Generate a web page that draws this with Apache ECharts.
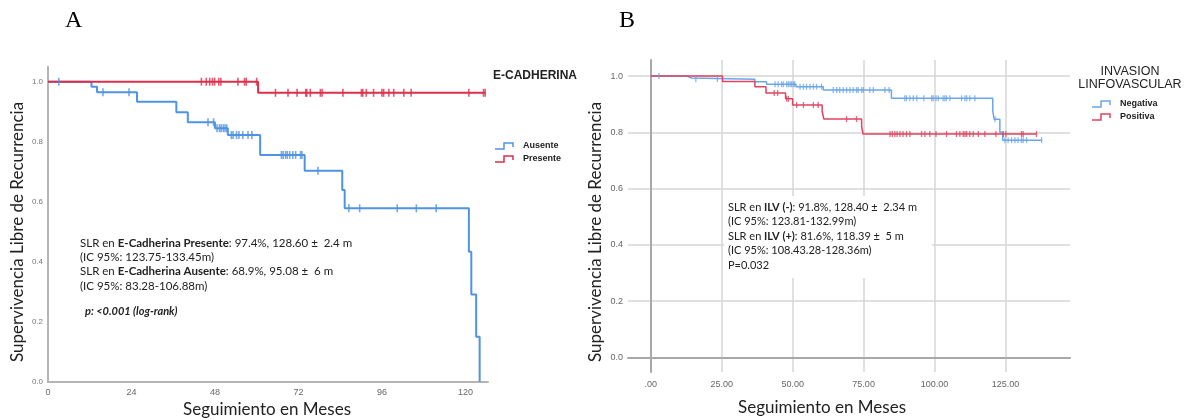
<!DOCTYPE html>
<html><head><meta charset="utf-8">
<script src="https://cdn.jsdelivr.net/npm/echarts@6/dist/echarts.min.js"></script>
<style>html,body{margin:0;padding:0;background:#fff}#c{width:1187px;height:420px}</style>
</head><body><div id="c"></div>
<script>
// ---- Panel A: E-Cadherina ----
const aAusTimes = [0, 12.5, 14.1, 25.6, 36.9, 40.2, 48.0, 51.7, 61.0, 73.8, 84.6, 85.3, 121.0, 121.7, 123.1, 124.1];
const aAusSurv  = [1, 0.983, 0.965, 0.933, 0.898, 0.865, 0.845, 0.822, 0.756, 0.703, 0.639, 0.578, 0.433, 0.291, 0.15, 0];
const aAusEnd = 124.1;
const aAusCens = [3.1, 15.8, 23.3, 46.0, 47.6, 48.6, 49.3, 49.8, 50.4, 50.9, 51.4, 52.7, 53.2, 54.2, 54.9, 56.0, 57.5, 58.6,
  67.1, 67.6, 68.3, 68.8, 69.5, 70.4, 71.2, 72.6, 73.0, 77.6, 86.5, 89.6, 100.4, 105.9, 111.6];
const aPreTimes = [0, 60.4];
const aPreSurv  = [1, 0.963];
const aPreEnd = 125.7;
const aPreCens = [44.1, 45.5, 46.5, 47.3, 47.9, 49.1, 49.7, 54.6, 56.5, 57.0, 60.0, 65.4, 69.0, 71.6, 74.1, 74.4, 75.4, 78.3, 78.8,
  84.8, 90.1, 90.5, 91.5, 93.6, 96.0, 96.5, 98.0, 99.4, 102.3, 104.4, 121.0, 125.2, 125.7];
const aXTicks = [0, 24, 48, 72, 96, 120];
const aYTicks = [0, 0.2, 0.4, 0.6, 0.8, 1.0];

// ---- Panel B: Invasion linfovascular ----
const bNegTimes = [0, 12.7, 14.4, 36.7, 40.8, 51.2, 60.8, 84.8, 120.5, 121.0, 123.0, 124.0];
const bNegSurv  = [1, 0.993, 0.989, 0.980, 0.971, 0.962, 0.950, 0.921, 0.875, 0.846, 0.80, 0.772];
const bNegEnd = 137.7;
const bNegCens = [2.9, 15.9, 23.5, 43.8, 44.9, 46.1, 46.7, 47.9, 48.5, 49.1, 49.6, 50.2, 50.7, 52.6, 53.8, 54.9, 56.1, 57.3, 58.4, 60.2,
  64.3, 65.5, 66.6, 67.8, 69.0, 70.2, 71.3, 72.5, 73.1, 74.3, 74.9, 77.2, 78.4, 82.5, 84.0,
  89.5, 90.1, 91.3, 92.5, 93.7, 96.2, 99.0, 99.5, 100.5, 101.3, 103.0, 103.6, 104.2, 105.4, 109.5, 110.7, 111.3, 112.4, 114.2,
  121.3, 124.8, 125.9, 127.1, 128.3, 129.4, 130.6, 131.2, 132.4, 137.7];
const bPosTimes = [0, 25.3, 36.7, 40.6, 47.5, 50.0, 60.4, 61.0, 74.3, 74.8];
const bPosSurv  = [1, 0.981, 0.962, 0.940, 0.919, 0.897, 0.874, 0.847, 0.82, 0.794];
const bPosEnd = 135.9;
const bPosCens = [43.5, 44.7, 47.9, 48.5, 51.4, 53.8, 57.3, 59.0, 69.0, 72.5, 84.3, 85.1, 86.0, 86.8, 87.8, 88.9, 90.1, 91.3,
  95.4, 96.6, 98.3, 100.5, 104.2, 107.7, 108.9, 110.1, 110.7, 111.3, 112.4, 113.6, 115.4, 117.7, 121.6, 124.2, 125.1,
  130.6, 131.2, 135.9];
const bXTicks = [0, 25, 50, 75, 100, 125];
const bYTicks = [0, 0.2, 0.4, 0.6, 0.8, 1.0];

const cBlueA = '#4f93e3', cRedA = '#dc2f4b';
const cBlueB = '#6aa6ea', cRedB = '#e0435f';

function stepData(times, surv, end) {
  const d = times.map((t, i) => [t, surv[i]]);
  if (end > times[times.length - 1]) d.push([end, surv[surv.length - 1]]);
  return d;
}
function survAt(times, surv, t) {
  let s = surv[0];
  for (let i = 0; i < times.length; i++) if (times[i] <= t) s = surv[i];
  return s;
}
function censData(times, surv, cens) { return cens.map(t => [t, survAt(times, surv, t)]); }

const chart = echarts.init(document.getElementById('c'), null, {renderer: 'canvas'});
const lblFont = 'Liberation Sans';
const txtFont = 'Lato';

function lineS(xi, data, color, w, z) {
  return {type: 'line', xAxisIndex: xi, yAxisIndex: xi, data: data, step: 'end', showSymbol: false, symbol: 'none',
    lineStyle: {color: color, width: w}, z: z, silent: true, animation: false};
}
function censS(xi, data, color, size, z) {
  return {type: 'scatter', xAxisIndex: xi, yAxisIndex: xi, data: data, symbol: 'rect', symbolSize: size,
    itemStyle: {color: color}, z: z, silent: true, animation: false};
}

function legIcon(x, y, color) {
  return {type: 'polyline', shape: {points: [[x, y + 3], [x + 9, y + 3], [x + 9, y - 3], [x + 18, y - 3], [x + 18, y + 1]]},
    style: {stroke: color, lineWidth: 1.5, fill: null}};
}

chart.setOption({
  animation: false,
  grid: [
    {left: 48, top: 66.7, width: 440, height: 315},
    {left: 628, top: 60, width: 442, height: 312}
  ],
  xAxis: [
    {gridIndex: 0, type: 'value', min: 0, max: 126.5,
      axisLine: {lineStyle: {color: '#b5b5b5', width: 2}}, axisTick: {show: false},
      splitLine: {show: false},
      axisLabel: {customValues: aXTicks, color: '#666', fontSize: 9, fontFamily: lblFont, margin: 6}},
    {gridIndex: 1, type: 'value', min: -8, max: 147.7,
      axisLine: {lineStyle: {color: '#a8a8a8', width: 2}},
      axisTick: {show: false, customValues: bXTicks},
      splitLine: {show: true, lineStyle: {color: '#d6d6d6', width: 1.5}},
      axisLabel: {customValues: bXTicks, color: '#666', fontSize: 9, fontFamily: lblFont, margin: 8,
        formatter: v => v === 0 ? '.00' : v.toFixed(2)}}
  ],
  yAxis: [
    {gridIndex: 0, type: 'value', min: 0, max: 1.05,
      axisLine: {show: true, lineStyle: {color: '#b5b5b5', width: 2}}, axisTick: {show: false},
      splitLine: {show: false},
      axisLabel: {customValues: aYTicks, color: '#777', fontSize: 8, fontFamily: lblFont, margin: 5,
        formatter: v => v.toFixed(1)}},
    {gridIndex: 1, type: 'value', min: -0.052, max: 1.057,
      axisLine: {show: true, lineStyle: {color: '#a8a8a8', width: 2}},
      axisTick: {show: false, customValues: bYTicks},
      splitLine: {show: true, lineStyle: {color: '#d6d6d6', width: 1.5}},
      axisLabel: {customValues: bYTicks, color: '#666', fontSize: 9, fontFamily: lblFont, margin: 5,
        formatter: v => v.toFixed(1)}}
  ],
  series: [
    lineS(0, stepData(aAusTimes, aAusSurv, aAusEnd), cBlueA, 2, 3),
    lineS(0, stepData(aPreTimes, aPreSurv, aPreEnd), cRedA, 2, 4),
    censS(0, censData(aAusTimes, aAusSurv, aAusCens), cBlueA, [1.6, 8], 5),
    censS(0, censData(aPreTimes, aPreSurv, aPreCens), cRedA, [1.6, 8], 6),
    lineS(1, stepData(bNegTimes, bNegSurv, bNegEnd), cBlueB, 1.5, 3),
    lineS(1, stepData(bPosTimes, bPosSurv, bPosEnd), cRedB, 1.5, 4),
    censS(1, censData(bNegTimes, bNegSurv, bNegCens), cBlueB, [1.3, 6], 5),
    censS(1, censData(bPosTimes, bPosSurv, bPosCens), cRedB, [1.3, 6], 6)
  ],
  graphic: [
    // panel letters
    {type: 'text', left: 65, top: 9, style: {text: 'A', font: '24px "Liberation Serif"', fill: '#000'}},
    {type: 'text', left: 619, top: 9, style: {text: 'B', font: '24px "Liberation Serif"', fill: '#000'}},
    // axis titles A
    {type: 'text', x: 18, y: 232, rotation: Math.PI / 2,
      style: {text: 'Supervivencia Libre de Recurrencia', font: '17px ' + txtFont, fill: '#222', align: 'center', verticalAlign: 'middle'}},
    {type: 'text', x: 267, y: 410,
      style: {text: 'Seguimiento en Meses', font: '17px ' + txtFont, fill: '#222', align: 'center', verticalAlign: 'middle'}},
    // axis titles B
    {type: 'text', x: 596, y: 232, rotation: Math.PI / 2,
      style: {text: 'Supervivencia Libre de Recurrencia', font: '17px ' + txtFont, fill: '#222', align: 'center', verticalAlign: 'middle'}},
    {type: 'text', x: 822, y: 408,
      style: {text: 'Seguimiento en Meses', font: '17px ' + txtFont, fill: '#222', align: 'center', verticalAlign: 'middle'}},
    // annotation A
    {type: 'text', x: 80, y: 236, z: 20, style: {
      text: '{n|SLR en }{b|E-Cadherina Presente}{n|: 97.4%, 128.60 \u00b1  2.4 m}\n{n|(IC 95%: 123.75-133.45m)}\n{n|SLR en }{b|E-Cadherina Ausente}{n|: 68.9%, 95.08 \u00b1  6 m}\n{n|(IC 95%: 83.28-106.88m)}',
      rich: {n: {font: '11.5px ' + txtFont, fill: '#222', lineHeight: 14.3}, b: {font: 'bold 11.5px ' + txtFont, fill: '#222', lineHeight: 14.3}}}},
    {type: 'text', x: 85, y: 306, z: 20, style: {text: 'p: <0.001 (log-rank)', font: 'italic bold 11px ' + txtFont, fill: '#222'}},
    // legend A
    {type: 'text', x: 493, y: 70, style: {text: 'E-CADHERINA', font: 'bold 12px ' + lblFont, fill: '#222'}},
    legIcon(495, 146, cBlueA),
    legIcon(495, 159, cRedA),
    {type: 'text', x: 523, y: 141, style: {text: 'Ausente', font: 'bold 9px ' + lblFont, fill: '#222'}},
    {type: 'text', x: 523, y: 154, style: {text: 'Presente', font: 'bold 9px ' + lblFont, fill: '#222'}},
    // annotation B box
    {type: 'rect', shape: {x: 724, y: 196, width: 208, height: 82}, style: {fill: '#fff'}, z: 10},
    {type: 'text', x: 728, y: 200, z: 20, style: {
      text: '{n|SLR en }{b|ILV (-)}{n|: 91.8%, 128.40 \u00b1  2.34 m}\n{n|(IC 95%: 123.81-132.99m)}\n{n|SLR en }{b|ILV (+)}{n|: 81.6%, 118.39 \u00b1  5 m}\n{n|(IC 95%: 108.43.28-128.36m)}\n{n|P=0.032}',
      rich: {n: {font: '11px ' + txtFont, fill: '#222', lineHeight: 14.5}, b: {font: 'bold 11px ' + txtFont, fill: '#222', lineHeight: 14.5}}}},
    // legend B
    {type: 'text', x: 1130, y: 78, style: {text: 'INVASION\nLINFOVASCULAR', font: '12.5px ' + lblFont, fill: '#222', align: 'center', verticalAlign: 'middle', lineHeight: 12.5}},
    legIcon(1092, 104, cBlueB),
    legIcon(1092, 117, cRedB),
    {type: 'text', x: 1120, y: 99, style: {text: 'Negativa', font: 'bold 9px ' + lblFont, fill: '#222'}},
    {type: 'text', x: 1120, y: 112, style: {text: 'Positiva', font: 'bold 9px ' + lblFont, fill: '#222'}}
  ]
});
</script></body></html>
